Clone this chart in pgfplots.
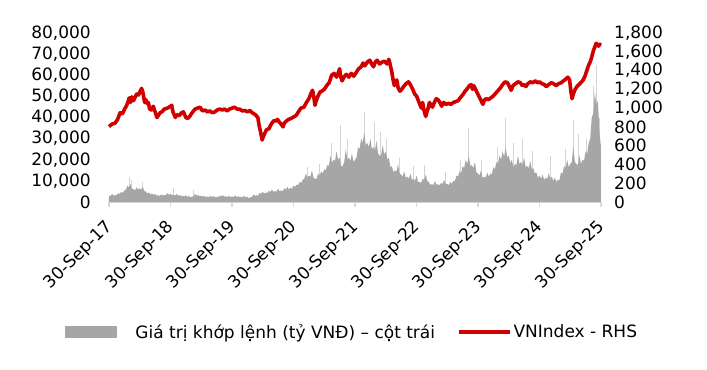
\documentclass[border=0pt]{standalone}
\usepackage{pgfplots}
\pgfplotsset{compat=1.18}
\usepackage{fontspec}
\setmainfont{DejaVu Sans}
\definecolor{volgray}{RGB}{166,166,166}
\definecolor{spikegray}{RGB}{212,212,212}
\definecolor{vnred}{RGB}{208,0,0}
\definecolor{axgray}{RGB}{217,217,217}
\newcommand{\lbl}{\fontsize{17bp}{20bp}\selectfont}
\begin{document}
\begin{tikzpicture}
\begin{axis}[
  scale only axis, width=492bp, height=169bp,
  xmin=0, xmax=8, ymin=0, ymax=80000,
  axis x line*=bottom, axis y line*=left,
  y axis line style={draw=none},
  x axis line style={draw=axgray, line width=1.5bp, -},
  xtick={0,1,2,3,4,5,6,7,8},
  xticklabels={30-Sep-17,30-Sep-18,30-Sep-19,30-Sep-20,30-Sep-21,30-Sep-22,30-Sep-23,30-Sep-24,30-Sep-25},
  xticklabel style={xshift=-5bp, yshift=-10bp, rotate=45, anchor=north east, inner sep=1bp},
  x tick style={draw=axgray, line width=1.2bp},
  tick align=outside, major tick length=5bp,
  ytick={0,10000,...,80000},
  y tick style={draw=none},
  scaled y ticks=false,
  tick label style={font=\lbl},
  /pgf/number format/1000 sep={,},
  /pgf/number format/assume math mode=true,
  yticklabel style={inner sep=0pt, xshift=-13bp},
  clip=false,
]
\addplot[ycomb, draw=spikegray, line width=1bp, mark=none] coordinates {
(0.33,11800)(0.36,10500)(0.55,9500)(1.05,6500)(1.37,5500)(3.22,16500)(3.42,18000)(3.62,28000)(3.76,36500)(3.88,30000)(4.16,42600)(4.31,38000)(4.42,33000)(4.52,30000)(4.72,21000)(4.95,17000)(5.13,17500)(5.47,14000)(5.72,20000)(5.84,35000)(6.05,20000)(6.32,26000)(6.45,40000)(6.58,28000)(6.72,30000)(6.88,24000)(7.18,22000)(7.42,25000)(7.55,38800)(7.64,32000)(7.76,30000)(7.88,55000)(7.93,65000)(7.98,40000)
};
\addplot[fill=volgray, draw=none] coordinates {
(0.00,3000)(0.025,2800)(0.05,3800)(0.075,3000)(0.10,3200)(0.125,3200)(0.15,4200)(0.175,3800)(0.20,4800)(0.225,4300)(0.25,5500)(0.275,5800)(0.30,7800)(0.325,6900)(0.35,8500)(0.375,6200)(0.40,6000)(0.425,5600)(0.45,7000)(0.475,5800)(0.50,6500)(0.525,5800)(0.55,7200)(0.575,5100)(0.60,5000)(0.625,4000)(0.65,4500)(0.675,3600)(0.70,4000)(0.725,3300)(0.75,3800)(0.775,3000)(0.80,3200)(0.825,2900)(0.85,3600)(0.875,3000)(0.90,3400)(0.925,3200)(0.95,4200)(0.975,3400)(1.00,3900)(1.025,3100)(1.05,3500)(1.075,3100)(1.10,3800)(1.125,3000)(1.15,3300)(1.175,2700)(1.20,3000)(1.225,2600)(1.25,3200)(1.275,2500)(1.30,2800)(1.325,2200)(1.35,2500)(1.375,2700)(1.40,3800)(1.425,3000)(1.45,3300)(1.475,2700)(1.50,3000)(1.525,2500)(1.55,2900)(1.575,2300)(1.60,2600)(1.625,2300)(1.65,2900)(1.675,2400)(1.70,2800)(1.725,2200)(1.75,2400)(1.775,2300)(1.80,3000)(1.825,2600)(1.85,3200)(1.875,2500)(1.90,2700)(1.925,2400)(1.95,2900)(1.975,2300)(2.00,2600)(2.025,2400)(2.05,3000)(2.075,2400)(2.10,2700)(2.125,2200)(2.15,2500)(2.175,2300)(2.20,2900)(2.225,2200)(2.25,2400)(2.275,1900)(2.30,2200)(2.325,2400)(2.35,3600)(2.375,2900)(2.40,3200)(2.425,3100)(2.45,4300)(2.475,3900)(2.50,4800)(2.525,3900)(2.55,4500)(2.575,4200)(2.60,5300)(2.625,4800)(2.65,6000)(2.675,4700)(2.70,5200)(2.725,4900)(2.75,6300)(2.775,5000)(2.80,5500)(2.825,5100)(2.85,6500)(2.875,5800)(2.90,7200)(2.925,5900)(2.95,6800)(2.975,6200)(3.00,7800)(3.025,7200)(3.05,8200)(3.075,8000)(3.10,9500)(3.125,9000)(3.15,10500)(3.175,11000)(3.20,13500)(3.225,11500)(3.25,12500)(3.275,12000)(3.30,15000)(3.325,11500)(3.35,11000)(3.375,11000)(3.40,13500)(3.425,12500)(3.45,14500)(3.475,13500)(3.50,15500)(3.525,15000)(3.55,17500)(3.575,17000)(3.60,22000)(3.625,18500)(3.65,20000)(3.675,19500)(3.70,24000)(3.725,20000)(3.75,21000)(3.775,17000)(3.80,17000)(3.825,19000)(3.85,25000)(3.875,20000)(3.90,21000)(3.925,19500)(3.95,23000)(3.975,19000)(4.00,20000)(4.025,21000)(4.05,26000)(4.075,25000)(4.10,30000)(4.125,28000)(4.15,33000)(4.175,27000)(4.20,28000)(4.225,26000)(4.25,30000)(4.275,25000)(4.30,26000)(4.325,24500)(4.35,29000)(4.375,23000)(4.40,22000)(4.425,22000)(4.45,27000)(4.475,22500)(4.50,24000)(4.525,20000)(4.55,21000)(4.575,16500)(4.60,17000)(4.625,14000)(4.65,15000)(4.675,14500)(4.70,18000)(4.725,13500)(4.75,13000)(4.775,12000)(4.80,14500)(4.825,11500)(4.85,12000)(4.875,11000)(4.90,13500)(4.925,10500)(4.95,11000)(4.975,10000)(5.00,12500)(5.025,9500)(5.05,9500)(5.075,9000)(5.10,11000)(5.125,10500)(5.15,13000)(5.175,10000)(5.20,9500)(5.225,8000)(5.25,8500)(5.275,8000)(5.30,10000)(5.325,8000)(5.35,8500)(5.375,7800)(5.40,9000)(5.425,8500)(5.45,10500)(5.475,8500)(5.50,8500)(5.525,8000)(5.55,9500)(5.575,8600)(5.60,10000)(5.625,10000)(5.65,12500)(5.675,12000)(5.70,14500)(5.725,13500)(5.75,17000)(5.775,16000)(5.80,20000)(5.825,18000)(5.85,22000)(5.875,17000)(5.90,17500)(5.925,16000)(5.95,19000)(5.975,14000)(6.00,13500)(6.025,12500)(6.05,15000)(6.075,11500)(6.10,12000)(6.125,11500)(6.15,14000)(6.175,12000)(6.20,13500)(6.225,13000)(6.25,16500)(6.275,15500)(6.30,19000)(6.325,18000)(6.35,22000)(6.375,20000)(6.40,24000)(6.425,21500)(6.45,26000)(6.475,21000)(6.50,22000)(6.525,18500)(6.55,20000)(6.575,16500)(6.60,18000)(6.625,17500)(6.65,22000)(6.675,18000)(6.70,19000)(6.725,17500)(6.75,21000)(6.775,16500)(6.80,17000)(6.825,16000)(6.85,19500)(6.875,15500)(6.90,16000)(6.925,13500)(6.95,14000)(6.975,11500)(7.00,12500)(7.025,11000)(7.05,13000)(7.075,10500)(7.10,11500)(7.125,11000)(7.15,13500)(7.175,11000)(7.20,12000)(7.225,10000)(7.25,11500)(7.275,9500)(7.30,10500)(7.325,10500)(7.35,14000)(7.375,13500)(7.40,17000)(7.425,16000)(7.45,20000)(7.475,16500)(7.50,18000)(7.525,19000)(7.55,26000)(7.575,19000)(7.60,18000)(7.625,17500)(7.65,22000)(7.675,18000)(7.70,20000)(7.725,19500)(7.75,24000)(7.775,23000)(7.80,28000)(7.825,30000)(7.85,40000)(7.875,42000)(7.90,52000)(7.925,46000)(7.95,48000)(7.975,33000)(8.00,26000)
} \closedcycle;
\end{axis}
\begin{axis}[
  scale only axis, width=492bp, height=169bp,
  xmin=0, xmax=8, ymin=0, ymax=1800,
  hide x axis,
  axis y line*=right,
  y axis line style={draw=none},
  ytick={0,200,...,1800},
  y tick style={draw=none},
  tick label style={font=\lbl},
  /pgf/number format/1000 sep={,},
  /pgf/number format/assume math mode=true,
  yticklabel style={inner sep=0pt, xshift=13bp},
  clip=false,
  legend style={draw=none, at={(0.494,-0.769)}, anchor=center, legend columns=2,
    font=\lbl, /tikz/every even column/.append style={column sep=20bp}},
]
\addlegendimage{legend image code/.code={\fill[volgray] (0bp,-5.5bp) rectangle (51bp,5.5bp); \path (68bp,0bp);}}
\addlegendentry{Giá trị khớp lệnh (tỷ VNĐ) – cột trái}
\addplot[draw=vnred, line width=3.6bp, line join=round, mark=none,
  legend image code/.code={\draw[vnred, line width=3.5bp] (0bp,0bp) -- (51bp,0bp);}] coordinates {
(0.00,804)(0.05,830)(0.10,840)(0.14,880)(0.18,950)(0.22,940)(0.25,985)(0.28,1020)(0.30,1050)(0.33,1110)(0.35,1060)(0.37,1120)(0.40,1080)(0.42,1110)(0.45,1150)(0.48,1140)(0.50,1170)(0.53,1210)(0.55,1170)(0.58,1060)(0.60,1090)(0.62,1050)(0.64,1060)(0.66,990)(0.69,980)(0.72,1020)(0.75,960)(0.78,900)(0.80,920)(0.83,950)(0.86,960)(0.90,990)(0.95,1000)(1.00,1020)(1.02,1030)(1.04,960)(1.08,900)(1.10,930)(1.14,920)(1.18,950)(1.21,960)(1.25,900)(1.28,890)(1.31,910)(1.35,950)(1.40,990)(1.44,1000)(1.48,1010)(1.52,970)(1.56,980)(1.60,960)(1.64,970)(1.68,950)(1.72,960)(1.76,980)(1.80,990)(1.84,980)(1.88,990)(1.92,970)(1.96,990)(2.00,1000)(2.04,1010)(2.08,990)(2.12,990)(2.17,970)(2.21,975)(2.25,960)(2.29,975)(2.33,950)(2.38,930)(2.42,900)(2.44,820)(2.46,760)(2.49,660)(2.51,700)(2.54,740)(2.56,770)(2.60,780)(2.63,820)(2.66,850)(2.69,870)(2.71,860)(2.74,880)(2.77,850)(2.80,830)(2.83,800)(2.85,840)(2.88,860)(2.92,880)(2.96,890)(3.00,905)(3.04,920)(3.08,960)(3.12,1000)(3.17,1010)(3.21,1060)(3.25,1100)(3.28,1150)(3.31,1190)(3.33,1120)(3.35,1030)(3.37,1080)(3.40,1130)(3.43,1170)(3.46,1180)(3.50,1200)(3.54,1240)(3.58,1270)(3.62,1350)(3.66,1370)(3.70,1330)(3.73,1380)(3.75,1420)(3.77,1330)(3.79,1290)(3.82,1330)(3.86,1360)(3.90,1330)(3.94,1370)(3.98,1340)(4.02,1380)(4.06,1420)(4.10,1440)(4.13,1480)(4.16,1450)(4.20,1490)(4.24,1510)(4.27,1470)(4.30,1440)(4.33,1490)(4.36,1510)(4.40,1470)(4.44,1490)(4.48,1500)(4.52,1470)(4.55,1520)(4.57,1470)(4.60,1380)(4.62,1300)(4.64,1240)(4.66,1280)(4.68,1300)(4.70,1220)(4.73,1180)(4.76,1200)(4.79,1230)(4.83,1260)(4.87,1280)(4.90,1250)(4.94,1200)(4.97,1150)(5.00,1130)(5.03,1080)(5.06,1030)(5.08,1000)(5.10,1060)(5.12,980)(5.15,911)(5.17,960)(5.19,1000)(5.21,1060)(5.24,1030)(5.26,1010)(5.29,1060)(5.32,1100)(5.35,1090)(5.38,1060)(5.41,1020)(5.44,1060)(5.48,1040)(5.52,1050)(5.56,1040)(5.60,1060)(5.64,1070)(5.68,1080)(5.71,1110)(5.75,1140)(5.79,1180)(5.83,1210)(5.86,1240)(5.89,1250)(5.91,1200)(5.93,1240)(5.96,1200)(5.99,1160)(6.02,1120)(6.05,1080)(6.08,1040)(6.10,1080)(6.13,1100)(6.17,1090)(6.21,1110)(6.25,1130)(6.29,1160)(6.33,1190)(6.37,1220)(6.40,1250)(6.44,1280)(6.48,1270)(6.51,1230)(6.54,1190)(6.57,1240)(6.61,1260)(6.65,1280)(6.69,1270)(6.72,1240)(6.75,1250)(6.78,1230)(6.81,1260)(6.85,1280)(6.89,1270)(6.93,1290)(6.97,1270)(7.00,1280)(7.04,1260)(7.08,1250)(7.11,1230)(7.15,1250)(7.19,1270)(7.23,1260)(7.27,1240)(7.31,1260)(7.35,1270)(7.39,1290)(7.43,1310)(7.46,1330)(7.49,1300)(7.51,1180)(7.53,1100)(7.55,1150)(7.58,1200)(7.61,1230)(7.64,1250)(7.67,1270)(7.71,1300)(7.74,1340)(7.77,1400)(7.80,1460)(7.83,1500)(7.86,1570)(7.88,1620)(7.90,1650)(7.92,1690)(7.94,1680)(7.96,1660)(7.98,1680)(8.00,1670)
};
\addlegendentry{VNIndex - RHS}
\end{axis}
\pgfresetboundingbox
\path[use as bounding box] (-109bp,-168bp) rectangle (598bp,202bp);
\end{tikzpicture}
\end{document}
